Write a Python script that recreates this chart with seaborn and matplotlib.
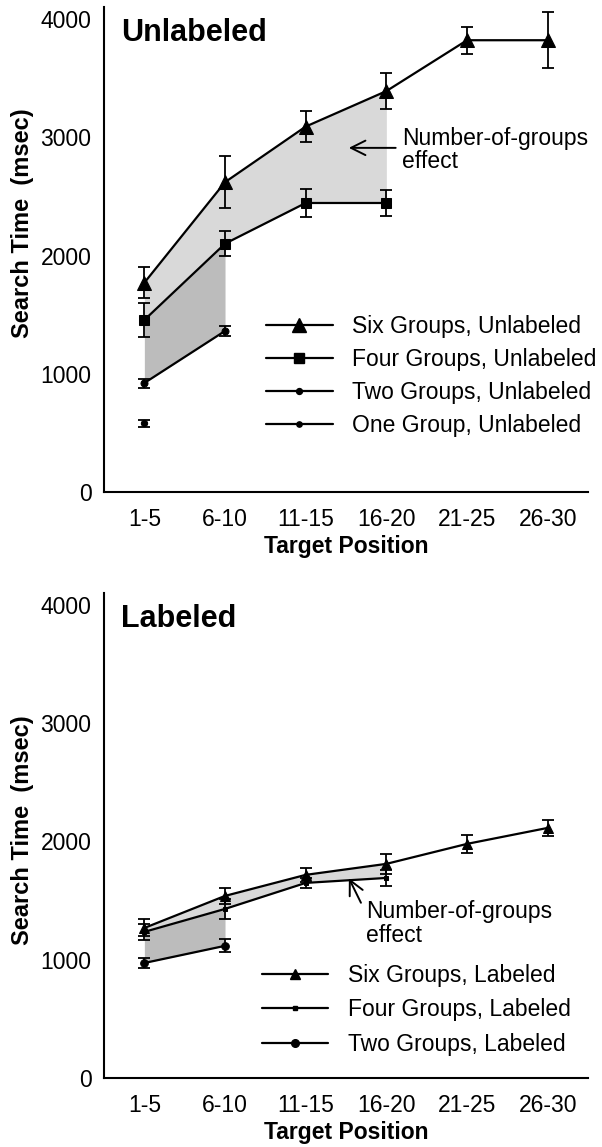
import numpy as np
import pandas as pd
import seaborn as sns
import matplotlib.pyplot as plt
from matplotlib.lines import Line2D

positions = ['1-5', '6-10', '11-15', '16-20', '21-25', '26-30']

# Unlabeled condition (msec)
six_unl = [1770, 2620, 3090, 3390, 3820, 3820]
six_unl_err = [130, 220, 130, 155, 115, 237]
four_unl = [1455, 2100, 2444, 2444]
four_unl_err = [145, 105, 120, 110]
two_unl = [922, 1362]
two_unl_err = [38, 45]
one_unl = [583]
one_unl_err = [30]

# Labeled condition (msec)
six_lab = [1268, 1539, 1717, 1810, 1979, 2114]
six_lab_err = [72, 65, 60, 85, 75, 65]
four_lab = [1235, 1429, 1649, 1691]
four_lab_err = [70, 85, 45, 70]
two_lab = [972, 1117]
two_lab_err = [45, 55]

LIGHT = '#d9d9d9'
DARK = '#bcbcbc'
FS = 16.5


def make_df(series):
    rows = []
    for name, vals, errs in series:
        for i, (v, e) in enumerate(zip(vals, errs)):
            rows.append(dict(series=name, pos=i, time=v, err=e))
    return pd.DataFrame(rows)


def draw_panel(ax, series, styles, title, ylab_y):
    df = make_df(series)
    for name, _, _ in series:
        d = df[df.series == name]
        m, ms = styles[name]
        sns.lineplot(data=d, x='pos', y='time', ax=ax, color='black', lw=1.6,
                     marker=m, markersize=ms, markeredgecolor='black',
                     markerfacecolor='black', legend=False)
        ax.errorbar(d['pos'], d['time'], yerr=d['err'], fmt='none',
                    ecolor='black', elinewidth=1.3, capsize=4.5, capthick=1.3)
    ax.set_xlim(-0.5, 5.5)
    ax.set_ylim(0, 4100)
    ax.set_yticks([0, 1000, 2000, 3000, 4000])
    ax.set_xticks(range(len(positions)))
    ax.set_xticklabels(positions)
    ax.set_xlabel('Target Position', fontweight='bold', fontsize=16.5, labelpad=3)
    ax.set_ylabel('Search Time  (msec)', fontweight='bold', fontsize=17)
    ax.yaxis.set_label_coords(-0.145, ylab_y)
    ax.tick_params(axis='y', direction='out', length=6, width=1.3, labelsize=FS, pad=3)
    ax.tick_params(axis='x', direction='out', length=6.5, width=1.3, labelsize=FS, pad=5)
    ax.text(0.035, 0.978, title, transform=ax.transAxes, fontsize=22,
            fontweight='bold', va='top', ha='left')
    sns.despine(ax=ax)
    for s in ['left', 'bottom']:
        ax.spines[s].set_linewidth(1.5)
        ax.spines[s].set_color('black')


sns.set_theme(style='white', rc={'text.color': 'black', 'axes.labelcolor': 'black',
                                 'xtick.color': 'black', 'ytick.color': 'black'})
plt.rcParams['font.family'] = ['Liberation Sans', 'DejaVu Sans']

fig = plt.figure(figsize=(6.02, 11.47), dpi=100)
ax1 = fig.add_axes([0.1728, 0.571, 0.804, 0.4228])
ax2 = fig.add_axes([0.1728, 0.0602, 0.804, 0.4228])

# ---- Unlabeled ----
x4 = np.arange(len(four_unl))
ax1.fill_between(x4, np.array(six_unl[:4]), np.array(four_unl), color=LIGHT, lw=0)
x2 = np.arange(len(two_unl))
ax1.fill_between(x2, np.array(four_unl[:2]), np.array(two_unl), color=DARK, lw=0)
unl_series = [('Six Groups, Unlabeled', six_unl, six_unl_err),
              ('Four Groups, Unlabeled', four_unl, four_unl_err),
              ('Two Groups, Unlabeled', two_unl, two_unl_err),
              ('One Group, Unlabeled', one_unl, one_unl_err)]
unl_styles = {'Six Groups, Unlabeled': ('^', 9.5),
              'Four Groups, Unlabeled': ('s', 7.5),
              'Two Groups, Unlabeled': ('o', 5),
              'One Group, Unlabeled': ('o', 4.5)}
draw_panel(ax1, unl_series, unl_styles, 'Unlabeled', 0.555)
handles = [Line2D([], [], color='black', lw=1.6, marker=unl_styles[n][0],
                  markersize=unl_styles[n][1] * (0.85 if n.startswith(('Two', 'One')) else 1))
           for n, _, _ in unl_series]
ax1.legend(handles, [n for n, _, _ in unl_series], loc='upper left',
           bbox_to_anchor=(0.335, 0.365), frameon=False, fontsize=FS,
           handlelength=2.9, handletextpad=0.85, labelspacing=0.43,
           borderpad=0, borderaxespad=0)
ax1.annotate('', xy=(2.5, 2910), xytext=(3.15, 2910),
             arrowprops=dict(arrowstyle='->', lw=1.4, color='black',
                             mutation_scale=26))
ax1.text(3.2, 2890, 'Number-of-groups\neffect', fontsize=FS, va='center',
         ha='left', linespacing=1.02)

# ---- Labeled ----
ax2.fill_between(x4, np.array(six_lab[:4]), np.array(four_lab), color=LIGHT, lw=0)
ax2.fill_between(x2, np.array(four_lab[:2]), np.array(two_lab), color=DARK, lw=0)
lab_series = [('Six Groups, Labeled', six_lab, six_lab_err),
              ('Four Groups, Labeled', four_lab, four_lab_err),
              ('Two Groups, Labeled', two_lab, two_lab_err)]
lab_styles = {'Six Groups, Labeled': ('^', 7.5),
              'Four Groups, Labeled': ('s', 3.5),
              'Two Groups, Labeled': ('o', 5.5)}
draw_panel(ax2, lab_series, lab_styles, 'Labeled', 0.511)
handles = [Line2D([], [], color='black', lw=1.6, marker=lab_styles[n][0],
                  markersize=lab_styles[n][1]) for n, _, _ in lab_series]
ax2.legend(handles, [n for n, _, _ in lab_series], loc='upper left',
           bbox_to_anchor=(0.326, 0.235), frameon=False, fontsize=FS,
           handlelength=2.9, handletextpad=0.85, labelspacing=0.5,
           borderpad=0, borderaxespad=0)
ax2.annotate('', xy=(2.52, 1710), xytext=(2.7, 1460),
             arrowprops=dict(arrowstyle='->', lw=1.4, color='black',
                             mutation_scale=26))
ax2.text(2.75, 1305, 'Number-of-groups\neffect', fontsize=FS, va='center',
         ha='left', linespacing=1.02)

fig.savefig('out.png', dpi=100)
